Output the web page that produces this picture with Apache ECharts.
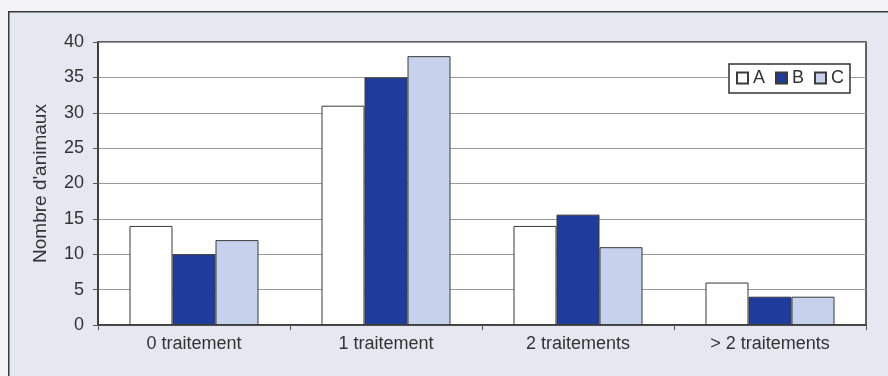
<!DOCTYPE html>
<html><head><meta charset="utf-8">
<script src="https://cdn.jsdelivr.net/npm/echarts@6/dist/echarts.min.js"></script>
<style>html,body{margin:0;padding:0;background:#f3f3f5;}#c{width:888px;height:376px;}</style>
</head><body><div id="c"></div>
<script>
const categories = ['0 traitement', '1 traitement', '2 traitements', '> 2 traitements'];
const seriesA = [14, 31, 14, 6];
const seriesB = [10, 35, 15.6, 4];
const seriesC = [12, 38, 11, 4];
const yTicks = { min: 0, max: 40, interval: 5 };
const yName = "Nombre d'animaux";

const chart = echarts.init(document.getElementById('c'), null, { renderer: 'canvas' });
const font = 'Liberation Sans, Arial, sans-serif';
const barStyle = (c) => ({ color: c, borderColor: '#3a3a3a', borderWidth: 1 });
chart.setOption({
  animation: false,
  backgroundColor: '#f3f3f5',
  graphic: [{
    type: 'rect', left: 8, top: 11, z: -10,
    shape: { width: 900, height: 380 },
    style: { fill: '#e5e7f1', stroke: '#3a3a3a', lineWidth: 1.5 }
  }],
  grid: { left: 98, right: 22, top: 42, bottom: 51, show: true, backgroundColor: '#ffffff', borderColor: '#333333', borderWidth: 1.5 },
  legend: {
    left: 729, top: 64, orient: 'horizontal',
    backgroundColor: '#ffffff', borderColor: '#333333', borderWidth: 1.5,
    padding: [5, 6, 6, 7], itemWidth: 11, itemHeight: 11, itemGap: 10,
    icon: 'rect',
    textStyle: { fontFamily: font, fontSize: 18, color: '#333' },
    data: ['A', 'B', 'C']
  },
  xAxis: {
    type: 'category', data: categories,
    axisLine: { lineStyle: { color: '#333', width: 1.5 } },
    axisTick: { show: true, length: 5, lineStyle: { color: '#555' } },
    axisLabel: { fontFamily: font, fontSize: 18, color: '#333', margin: 10 }
  },
  yAxis: {
    type: 'value', min: yTicks.min, max: yTicks.max, interval: yTicks.interval,
    name: yName, nameLocation: 'middle', nameGap: 48,
    nameTextStyle: { fontFamily: font, fontSize: 19, color: '#333' },
    axisLine: { show: true, lineStyle: { color: '#333', width: 1.5 } },
    axisTick: { show: true, length: 5, lineStyle: { color: '#555' } },
    axisLabel: { fontFamily: font, fontSize: 18, color: '#333', margin: 14 },
    splitLine: { lineStyle: { color: '#9a9a9a', width: 1 } }
  },
  series: [
    { name: 'A', type: 'bar', data: seriesA, barWidth: '22.4%', barGap: '0%', itemStyle: barStyle('#ffffff') },
    { name: 'B', type: 'bar', data: seriesB, barWidth: '22.4%', barGap: '0%', itemStyle: barStyle('#1f3b9b') },
    { name: 'C', type: 'bar', data: seriesC, barWidth: '22.4%', barGap: '0%', itemStyle: barStyle('#c7d1ec') }
  ]
});
</script></body></html>
